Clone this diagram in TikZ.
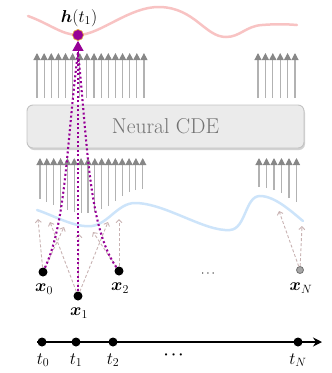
\documentclass[tikz,border=0pt]{standalone}
\usetikzlibrary{arrows.meta}
\usepackage{amsmath,amssymb,bm}
\definecolor{cdepurple}{RGB}{150,0,150}
\definecolor{hring}{RGB}{225,170,70}
\definecolor{redcurve}{RGB}{248,195,195}
\definecolor{bluecurve}{RGB}{205,228,250}
\definecolor{shaftgray}{RGB}{178,178,178}
\definecolor{headgray}{RGB}{135,135,135}
\definecolor{dashc}{RGB}{200,178,178}
\definecolor{boxfill}{RGB}{235,235,235}
\definecolor{boxdraw}{RGB}{195,195,195}
\definecolor{boxshadow}{RGB}{210,210,210}
\definecolor{cdetext}{RGB}{115,115,115}
\tikzset{
  flowarrow/.style={draw=shaftgray, line width=1.1pt, -{Triangle[width=7pt,length=7pt,color=headgray]}},
  obsarrow/.style={draw=dashc, line width=0.9pt, dash pattern=on 3pt off 2pt, -{Straight Barb[length=3pt,width=6pt]}},
  pathdot/.style={draw=cdepurple, line width=2.1pt, dash pattern=on 2pt off 2.5pt},
  obsdot/.style={circle, fill=black, inner sep=0pt, minimum size=9pt},
  lbl/.style={inner sep=0pt, font=\fontsize{17}{19}\selectfont},
}
\begin{document}
\begin{tikzpicture}[x=1pt,y=-1pt]
\useasboundingbox (0,0) rectangle (332,373);
% hidden state curve
\draw[redcurve, line width=2.5pt, line cap=round]
  (28,16) .. controls (50,24) and (62,35) .. (78,35)
  .. controls (100,35) and (130,6) .. (160,7)
  .. controls (195,8) and (205,37) .. (226,37)
  .. controls (240,37) and (246,26) .. (262,25)
  .. controls (275,24) and (285,24) .. (297,25);
% interpolated path curve
\draw[bluecurve, line width=2.5pt, line cap=round]
  (37,210) .. controls (55,216) and (75,228) .. (92,226)
  .. controls (108,224) and (118,203) .. (135,203)
  .. controls (165,203) and (205,232) .. (230,230)
  .. controls (246,229) and (245,196) .. (260,196)
  .. controls (275,196) and (292,212) .. (303,221);
% upper arrow bundles
\foreach \i in {0,...,15} {
  \draw[flowarrow] ({37+7.13*\i},98) -- ({37+7.13*\i},53);
}
\foreach \i in {0,...,5} {
  \draw[flowarrow] ({258+7.4*\i},98) -- ({258+7.4*\i},53);
}
% lower arrow bundles
\foreach \b [count=\i from 0] in {199,202,205,208,210,212,213,213,212,209,206,201,196,192,190,189} {
  \draw[flowarrow] ({40+6.85*\i},\b) -- ({40+6.85*\i},158);
}
\foreach \b [count=\i from 0] in {187,188,190,193,198,202} {
  \draw[flowarrow] ({259+7.5*\i},\b) -- ({259+7.5*\i},158);
}
% Neural CDE box
\fill[boxshadow, rounded corners=6pt] (28,107) rectangle (305,150);
\node[draw=boxdraw, fill=boxfill, rounded corners=6pt, line width=0.9pt,
      minimum width=277pt, minimum height=43pt, inner sep=0pt,
      text=cdetext, font=\fontsize{21.5}{24}\selectfont] (cde) at (165.5,126.5) {Neural CDE};
% observations
\node[obsdot] (x0) at (43,272) {};
\node[obsdot] (x1) at (78,296) {};
\node[obsdot] (x2) at (119,271) {};
\node[circle, fill=gray!70, draw=gray!90!black, line width=0.8pt, inner sep=0pt, minimum size=7pt] (xN) at (300,270) {};
\node[lbl] (lx0) at (44,289) {$\bm{x}_0$};
\node[lbl] (lx1) at (79,313) {$\bm{x}_1$};
\node[lbl] (lx2) at (120,288) {$\bm{x}_2$};
\node[lbl] (lxN) at (301,288) {$\bm{x}_N$};
\node[font=\fontsize{13}{15}\selectfont, inner sep=0pt] (odots) at (209,274) {$\cdots$};
% dashed observation arrows
\coordinate (a0) at (38,219);
\coordinate (a1) at (64,227);
\coordinate (a2) at (50,222);
\coordinate (a3) at (79,234);
\coordinate (a4) at (108,222);
\coordinate (a5) at (93,232);
\coordinate (a6) at (119,219);
\coordinate (a7) at (279,211);
\coordinate (a8) at (302,226);
\draw[obsarrow] (x0) -- (a0);
\draw[obsarrow] (x0) -- (a1);
\draw[obsarrow] (x1) -- (a2);
\draw[obsarrow] (x1) -- (a3);
\draw[obsarrow] (x1) -- (a4);
\draw[obsarrow] (x2) -- (a5);
\draw[obsarrow] (x2) -- (a6);
\draw[obsarrow] (xN) -- (a7);
\draw[obsarrow] (xN) -- (a8);
% hidden state node
\node[circle, fill=cdepurple, draw=hring, line width=0.7pt, inner sep=0pt, minimum size=11pt] (h) at (78,35) {};
\node[lbl] (lh) at (79,18) {$\bm{h}(t_1)$};
\coordinate (hin) at (78,52);
\draw[pathdot] (x0) .. controls (66,222) and (66,150) .. (hin);
\draw[pathdot] (x1) -- (hin);
\draw[pathdot] (x2) .. controls (89,228) and (88,150) .. (hin);
\draw[cdepurple, line width=1pt, -{Triangle[width=11pt,length=10pt]}] (hin) -- (h.south);
% timeline
\node[obsdot] (t0) at (42,342) {};
\node[obsdot] (t1) at (76,342) {};
\node[obsdot] (t2) at (113,342) {};
\node[obsdot] (tN) at (298,342) {};
\coordinate (tend) at (322,342);
\draw[line width=1.3pt, -{Stealth[length=9pt,width=9pt]}] (t0.west) -- (tend);
\node[lbl] (lt0) at (43,360) {$t_0$};
\node[lbl] (lt1) at (76,360) {$t_1$};
\node[lbl] (lt2) at (113,360) {$t_2$};
\node[lbl] (ltN) at (298,360) {$t_N$};
\node[font=\fontsize{15}{17}\selectfont, inner sep=0pt] (tdots) at (175,355) {$\bm{\cdots}$};
\end{tikzpicture}
\end{document}
